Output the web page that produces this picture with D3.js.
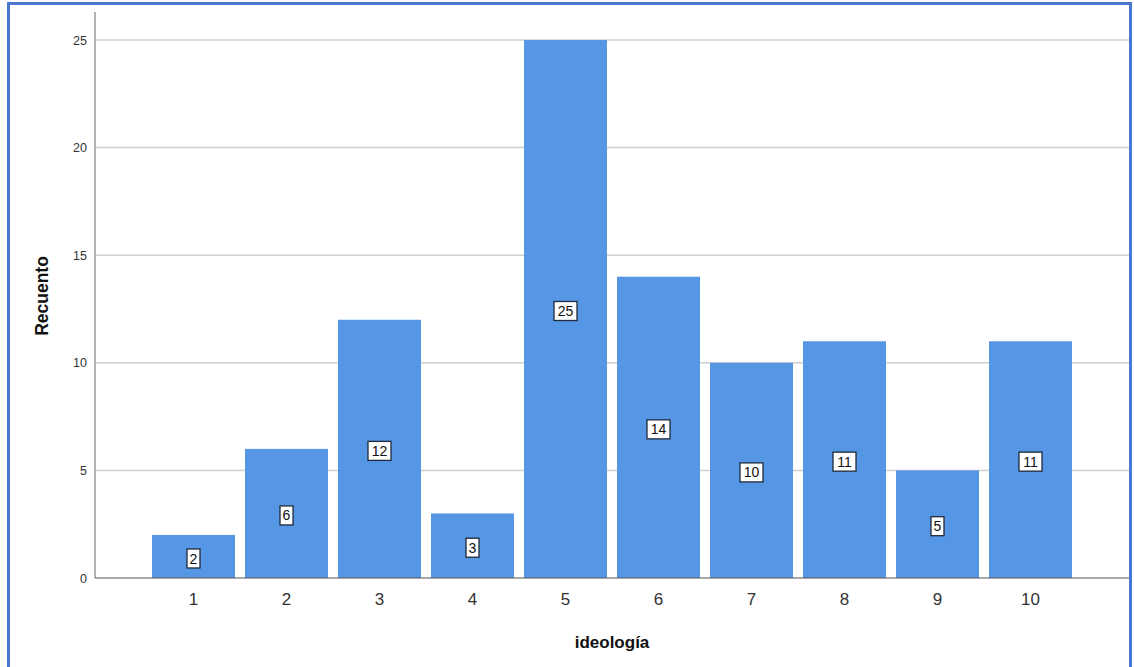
<!DOCTYPE html>
<html>
<head>
<meta charset="utf-8">
<script src="https://cdn.jsdelivr.net/npm/d3@7"></script>
<style>
  html, body { margin: 0; padding: 0; background: #fff; }
  svg { display: block; }
</style>
</head>
<body>
<svg id="chart" width="1134" height="667"></svg>
<script>
const categories = ["1", "2", "3", "4", "5", "6", "7", "8", "9", "10"];
const counts = [2, 6, 12, 3, 25, 14, 10, 11, 5, 11];
const yTicks = [0, 5, 10, 15, 20, 25];
const xTitle = "ideología";
const yTitle = "Recuento";

const svg = d3.select("#chart");

// outer frame
svg.append("rect")
  .attr("x", 8.5).attr("y", 3.5)
  .attr("width", 1122).attr("height", 680)
  .attr("fill", "none")
  .attr("stroke", "#4A78CF")
  .attr("stroke-width", 3);

const axisLeft = 95, axisRight = 1129, axisTop = 12, axisBottom = 578;

const y = d3.scaleLinear().domain([0, 25]).range([578, 40]);
const x = d3.scaleBand().domain(categories)
  .range([147, 1077])
  .paddingInner(10 / 93)
  .paddingOuter(5 / 93);

// gridlines
svg.append("g").selectAll("line")
  .data(yTicks.filter(d => d > 0))
  .join("line")
  .attr("x1", axisLeft).attr("x2", axisRight)
  .attr("y1", d => y(d)).attr("y2", d => y(d))
  .attr("stroke", "#cfcfcf")
  .attr("stroke-width", 1.5);

// bars
svg.append("g").selectAll("rect")
  .data(counts)
  .join("rect")
  .attr("x", (d, i) => x(categories[i]))
  .attr("y", d => y(d))
  .attr("width", x.bandwidth())
  .attr("height", d => y(0) - y(d))
  .attr("fill", "#5596E5");

// y axis line
svg.append("line")
  .attr("x1", axisLeft).attr("x2", axisLeft)
  .attr("y1", axisTop).attr("y2", axisBottom)
  .attr("stroke", "#9a9a9a").attr("stroke-width", 1.5);

const yAxis = d3.axisLeft(y).tickValues(yTicks).tickSize(0).tickPadding(8);
const yg = svg.append("g").attr("transform", `translate(${axisLeft},0)`).call(yAxis);
yg.select(".domain").remove();
yg.selectAll("text")
  .attr("font-family", "Arial, 'Liberation Sans', sans-serif")
  .attr("font-size", 12.5)
  .attr("fill", "#333");

// x axis line
svg.append("line")
  .attr("x1", axisLeft).attr("x2", axisRight)
  .attr("y1", axisBottom).attr("y2", axisBottom)
  .attr("stroke", "#555").attr("stroke-width", 1.2);

const xAxis = d3.axisBottom(x).tickSize(0).tickPadding(15);
const xg = svg.append("g").attr("transform", `translate(0,${axisBottom})`).call(xAxis);
xg.select(".domain").remove();
xg.selectAll("text")
  .attr("font-family", "Arial, 'Liberation Sans', sans-serif")
  .attr("font-size", 17)
  .attr("fill", "#333");

// value labels in boxes
const lab = svg.append("g").selectAll("g")
  .data(counts)
  .join("g")
  .attr("transform", (d, i) => `translate(${x(categories[i]) + x.bandwidth() / 2},${(y(d) + y(0)) / 2 + 2})`);

lab.append("rect")
  .attr("x", d => String(d).length > 1 ? -11.5 : -6.5)
  .attr("y", -9.5)
  .attr("width", d => String(d).length > 1 ? 23 : 13)
  .attr("height", 19)
  .attr("fill", "#fff")
  .attr("stroke", "#1f2a3a")
  .attr("stroke-width", 1.3);

lab.append("text")
  .text(d => d)
  .attr("text-anchor", "middle")
  .attr("dy", "0.36em")
  .attr("font-family", "Arial, 'Liberation Sans', sans-serif")
  .attr("font-size", 14)
  .attr("fill", "#111");

// axis titles
svg.append("text")
  .text(xTitle)
  .attr("x", (axisLeft + axisRight) / 2)
  .attr("y", 648)
  .attr("text-anchor", "middle")
  .attr("font-family", "Arial, 'Liberation Sans', sans-serif")
  .attr("font-weight", "bold")
  .attr("font-size", 17)
  .attr("fill", "#111");

svg.append("text")
  .text(yTitle)
  .attr("transform", `translate(48,296) rotate(-90)`)
  .attr("text-anchor", "middle")
  .attr("font-family", "Arial, 'Liberation Sans', sans-serif")
  .attr("font-weight", "bold")
  .attr("font-size", 17.5)
  .attr("fill", "#111");
</script>
</body>
</html>
